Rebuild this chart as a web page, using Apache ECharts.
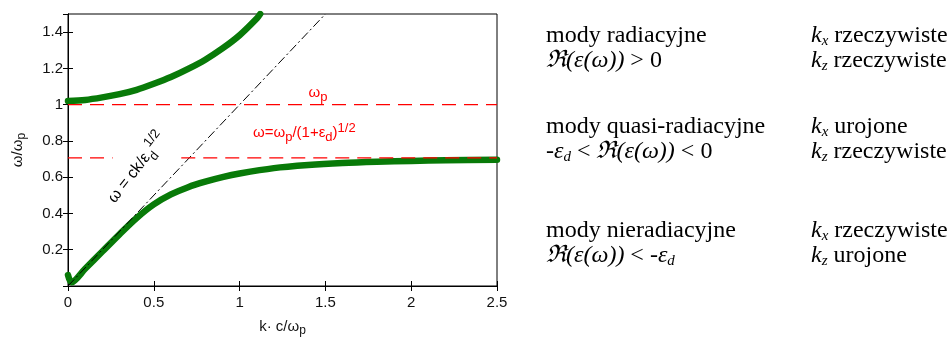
<!DOCTYPE html>
<html>
<head>
<meta charset="utf-8">
<script src="https://cdn.jsdelivr.net/npm/echarts@6/dist/echarts.min.js"></script>
<style>
  html, body { margin: 0; padding: 0; background: #fff; }
  #chart { width: 950px; height: 342px; }
</style>
</head>
<body>
<div id="chart"></div>
<script>
// radiative (upper) branch
const upperK = [0, 0.1, 0.2, 0.3, 0.4, 0.5, 0.6, 0.7, 0.8, 0.9, 1.0, 1.1, 1.12];
const upperW = [1.02, 1.026, 1.04, 1.058, 1.082, 1.115, 1.152, 1.197, 1.248, 1.31, 1.383, 1.475, 1.5];

// surface plasmon (lower) branch
const lowerK = [0, 0.02, 0.1, 0.2, 0.3, 0.4, 0.5, 0.6, 0.7, 0.8, 0.9, 1.0, 1.2, 1.4, 1.6, 1.8, 2.0, 2.2, 2.5];
const lowerW = [0.06, 0.02, 0.095, 0.19, 0.285, 0.375, 0.45, 0.505, 0.545, 0.575, 0.6, 0.62, 0.65, 0.667, 0.678, 0.685, 0.69, 0.693, 0.696];

// light line w = ck/eps_d^1/2
const lightK = [0, 1.5];
const lightW = [0, 1.5];

// horizontal reference levels
const plasmaW = 1;
const surfaceW = 0.707;
const surfaceSpans = [[0, 0.26], [0.66, 2.5]];

const kMax = 2.5;
const wMax = 1.5;

// text on the right
const modeNames = ["mody radiacyjne", "mody quasi-radiacyjne", "mody nieradiacyjne"];
const modeConds = [
  "{i|ℜ(ε(ω))} > 0",
  "{i|-ε}{s|d} < {i|ℜ(ε(ω))} < 0",
  "{i|ℜ(ε(ω))} < {i|-ε}{s|d}"
];
const kxState = ["rzeczywiste", "urojone", "rzeczywiste"];
const kzState = ["rzeczywiste", "rzeczywiste", "urojone"];
const rowTops = [40, 131, 235];

const zip = (a, b) => a.map((v, i) => [v, b[i]]);

const chart = echarts.init(document.getElementById("chart"));

const serif = "Liberation Serif";
const richRight = {
  n: { fontFamily: serif, fontSize: 24, lineHeight: 26, fill: "#000" },
  i: { fontFamily: serif, fontSize: 24, lineHeight: 26, fontStyle: "italic", fill: "#000" },
  s: { fontFamily: serif, fontSize: 15, lineHeight: 11, fontStyle: "italic", verticalAlign: "bottom", fill: "#000" }
};

const graphics = [];
modeNames.forEach((name, r) => {
  const b1 = rowTops[r];
  const b2 = b1 + 25;
  graphics.push({ type: "text", x: 546, y: b1 - 4, style: { text: "{n|" + name + "}", rich: richRight, verticalAlign: "middle" } });
  graphics.push({ type: "text", x: 546, y: b2 - 4, style: { text: modeConds[r].replace(/(^|\})([^{]+)(?=\{|$)/g, "$1{n|$2}"), rich: richRight, verticalAlign: "middle" } });
  graphics.push({ type: "text", x: 811, y: b1 - 4, style: { text: "{i|k}{s|x}{n| " + kxState[r] + "}", rich: richRight, verticalAlign: "middle" } });
  graphics.push({ type: "text", x: 811, y: b2 - 4, style: { text: "{i|k}{s|z}{n| " + kzState[r] + "}", rich: richRight, verticalAlign: "middle" } });
});

const sans = "Liberation Sans";
const richRed = {
  a: { fontFamily: sans, fontSize: 15, lineHeight: 22, fill: "#ff0000" },
  b: { fontFamily: sans, fontSize: 13, lineHeight: 8, verticalAlign: "bottom", fill: "#ff0000" },
  c: { fontFamily: sans, fontSize: 13, lineHeight: 8, verticalAlign: "top", fill: "#ff0000" }
};
graphics.push({ type: "text", x: 318, y: 93, style: { text: "{a|ω}{b|p}", rich: richRed, align: "center", verticalAlign: "middle" } });
graphics.push({ type: "text", x: 253, y: 133, style: { text: "{a|ω=ω}{b|p}{a|/(1+ε}{b|d}{a|)}{c|1/2}", rich: richRed, verticalAlign: "middle" } });

const richBlack = {
  a: { fontFamily: sans, fontSize: 16, lineHeight: 26, fill: "#000" },
  b: { fontFamily: sans, fontSize: 13, lineHeight: 8, verticalAlign: "bottom", fill: "#000" },
  c: { fontFamily: sans, fontSize: 13, lineHeight: 8, verticalAlign: "top", fill: "#000" }
};
graphics.push({ type: "text", x: 137, y: 168, rotation: 52 * Math.PI / 180, style: { text: "{a|ω = ck/ε}{b|d}{c|1/2}", rich: richBlack, align: "center", verticalAlign: "middle" } });

const tickLabel = { fontFamily: sans, fontSize: 15, color: "#111" };
const nameRich = {
  a: { fontFamily: sans, fontSize: 15, lineHeight: 20, color: "#111" },
  b: { fontFamily: sans, fontSize: 12, lineHeight: 6, verticalAlign: "bottom", color: "#111" }
};

chart.setOption({
  animation: false,
  grid: { left: 68, right: 453, top: 14, bottom: 53, show: true, borderColor: "#000", borderWidth: 1 },
  xAxis: [
    {
      type: "value", min: 0, max: kMax, interval: 0.5,
      name: "{a|k· c/ω}{b|p}", nameLocation: "middle", nameGap: 31,
      nameTextStyle: { rich: nameRich },
      axisLine: { lineStyle: { color: "#000", width: 1 } },
      axisTick: { inside: true, length: 5, lineStyle: { color: "#000" } },
      axisLabel: Object.assign({ margin: 9 }, tickLabel),
      splitLine: { show: false }
    },
    {
      type: "value", position: "top", min: 0, max: kMax, interval: 0.5,
      axisLine: { lineStyle: { color: "#000" } },
      axisTick: { inside: true, length: 5, lineStyle: { color: "#000" } },
      axisLabel: { show: false }, splitLine: { show: false }
    }
  ],
  yAxis: [
    {
      type: "value", min: 0, max: wMax, interval: 0.2,
      name: "{a|ω/ω}{b|p}", nameLocation: "middle", nameGap: 40, nameRotate: 90,
      nameTextStyle: { rich: nameRich },
      axisLine: { show: true, lineStyle: { color: "#000", width: 1 } },
      axisTick: { inside: true, length: 5, lineStyle: { color: "#000" } },
      axisLabel: Object.assign({ margin: 5, showMinLabel: false, showMaxLabel: false }, tickLabel),
      splitLine: { show: false }
    },
    {
      type: "value", position: "right", min: 0, max: wMax, interval: 0.2,
      axisLine: { show: true, lineStyle: { color: "#000" } },
      axisTick: { inside: true, length: 5, lineStyle: { color: "#000" } },
      axisLabel: { show: false }, splitLine: { show: false }
    }
  ],
  series: [
    {
      type: "line", data: zip(upperK, upperW), smooth: 0.3, showSymbol: false, z: 3,
      lineStyle: { color: "#087a08", width: 6.5, cap: "round", join: "round" }
    },
    {
      type: "line", data: zip(lowerK, lowerW), smooth: 0.3, showSymbol: false, z: 3,
      lineStyle: { color: "#087a08", width: 6.5, cap: "round", join: "round" }
    },
    {
      type: "line", data: zip(lightK, lightW), showSymbol: false, z: 4,
      lineStyle: { color: "#000", width: 1, type: [9, 3, 2, 3] }
    },
    {
      type: "line", data: [[0, plasmaW], [kMax, plasmaW]], showSymbol: false, z: 5,
      lineStyle: { color: "#ff0000", width: 1.3, type: [14, 8] }
    },
    ...surfaceSpans.map(sp => ({
      type: "line", data: [[sp[0], surfaceW], [sp[1], surfaceW]], showSymbol: false, z: 5,
      lineStyle: { color: "#ff0000", width: 1.3, type: [14, 8] }
    }))
  ],
  graphic: graphics
});
</script>
</body>
</html>
